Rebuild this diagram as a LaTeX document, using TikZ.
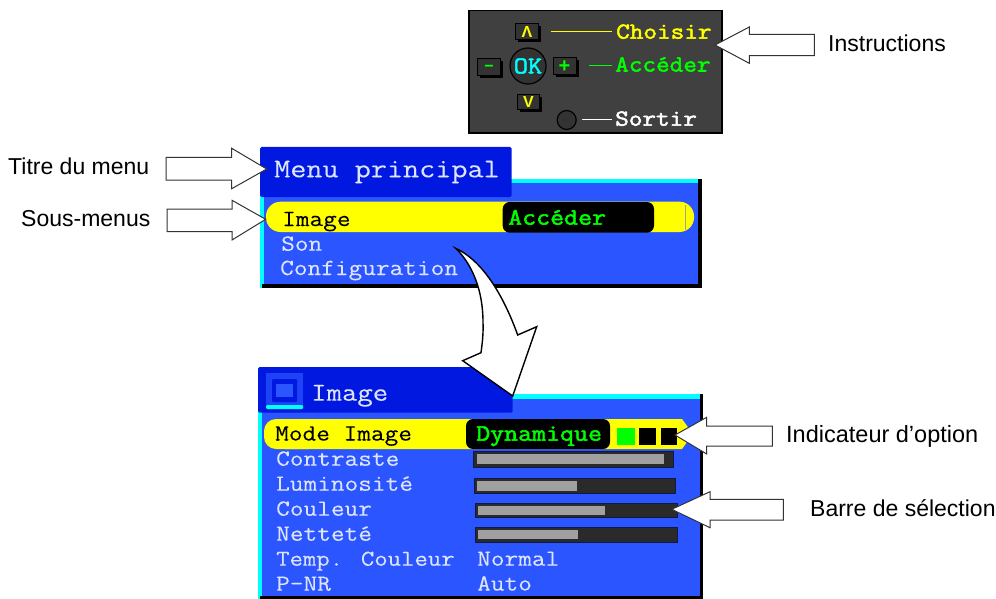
\documentclass[tikz,border=0pt]{standalone}
\usepackage{fontspec}
\setmainfont{Liberation Sans}
\newfontfamily\mfont[FakeStretch=1.15,FakeBold=0.1]{Latin Modern Mono}
\newfontfamily\bfont[FakeStretch=1.15,FakeBold=2.2]{Latin Modern Mono}
\newfontfamily\bsym{Liberation Sans Bold}
\definecolor{panelblue}{HTML}{2B55FF}
\definecolor{titleblue}{HTML}{0018E0}
\definecolor{pale}{HTML}{DDE4FF}
\definecolor{ltgreen}{HTML}{00FF00}
\definecolor{pureyellow}{HTML}{FFFF00}
\definecolor{purecyan}{HTML}{00FFFF}
\definecolor{boxgray}{HTML}{404040}
\definecolor{keygray}{HTML}{333333}
\definecolor{bardark}{HTML}{2A2A2A}
\definecolor{barlight}{HTML}{A0A0A0}
\tikzset{
  lab/.style={anchor=base west,inner sep=0pt,font=\fontsize{23}{24}\selectfont,text=black},
  mtxt/.style={anchor=base west,inner sep=0pt,font=\mfont\fontsize{23.1}{24}\selectfont,text=pale},
  htxt/.style={anchor=base west,inner sep=0pt,font=\mfont\fontsize{27.2}{28}\selectfont,text=pale},
  btxt/.style={anchor=base west,inner sep=0pt,font=\bfont\fontsize{23.6}{24}\selectfont},
  itxt/.style={anchor=base west,inner sep=0pt,font=\bfont\fontsize{23}{24}\selectfont},
  blockarrow/.style={draw=black!80,fill=white,line width=1pt,line join=miter},
  keycap/.style={fill=keygray,draw=black,line width=.8pt},
  keyshadow/.style={fill=black},
  keylabel/.style={inner sep=0pt,font=\bsym\fontsize{16}{18}\selectfont},
}
\begin{document}
\begin{tikzpicture}[x=1pt,y=-1pt]
\useasboundingbox (0,0) rectangle (996,599);
% instruction box
\fill[boxgray,draw=black,line width=1.2pt] (469,10.5) rectangle (722,133);
\foreach \a/\b/\c/\d in {515/23/538/39,477/58/500/75,553/57/576/74,517/94/539/109}{
  \fill[keyshadow] (\a+3,\b+3) rectangle (\c+3,\d+3);
  \draw[keycap] (\a,\b) rectangle (\c,\d);
}
\node[keylabel,text=pureyellow] (kup) at (527,31.5) {Λ};
\node[keylabel,text=ltgreen] (kminus) at (489,68.5) {\textminus};
\node[keylabel,text=ltgreen,font=\bsym\fontsize{20}{20}\selectfont] (kplus) at (564.5,67) {+};
\node[keylabel,text=pureyellow] (kdown) at (528.5,102) {V};
\node[circle,fill=keygray,draw=black,line width=1.2pt,minimum size=36pt,inner sep=0pt,text=purecyan,font=\bfont\fontsize{24}{24}\selectfont] (ok) at (528,66) {OK};
\node[circle,fill=keygray,draw=black,line width=1.2pt,minimum size=19pt,inner sep=0pt] (exit) at (566.7,120) {};
\node[itxt,text=pureyellow] (choisir) at (616,38.7) {Choisir};
\node[itxt,text=ltgreen] (acc1) at (615,71.5) {Accéder};
\node[itxt,text=white] (sortir) at (615,125.7) {Sortir};
\coordinate (cl) at (551,31.7);
\coordinate (al) at (589,65.7);
\coordinate (sl) at (582,119.7);
\draw[pureyellow,line width=1.6pt] (cl) -- ++(61,0);
\draw[ltgreen,line width=1.6pt] (al) -- ++(23,0);
\draw[white,line width=1.6pt] (sl) -- ++(30,0);

% main menu
\fill[panelblue] (260,180) rectangle (702,288);
\fill[purecyan] (260,179) rectangle (700,183);
\fill[purecyan] (260,180) rectangle (264,288);
\fill[black] (698,179) rectangle (702,288);
\fill[black] (262,284) rectangle (702,288);
\fill[titleblue,rounded corners=1.5pt] (260,147) rectangle (511.7,197);
\node[htxt] (t1) at (274,177.3) {Menu principal};
\fill[pureyellow,rounded corners=14.5pt] (266,201.7) rectangle (694,232);
\fill[black,rounded corners=7pt] (502.7,202) rectangle (654,232.7);
\draw[barlight,line width=1pt] (685,205) -- (685,230);
\node[mtxt,text=black] (m1) at (282,226) {Image};
\node[btxt,text=ltgreen] (m1b) at (508,224.7) {Accéder};
\node[mtxt] (m2) at (281,250.7) {Son};
\node[mtxt] (m3) at (280,275) {Configuration};

% image menu
\fill[panelblue] (258,396) rectangle (702,599);
\fill[purecyan] (258,394) rectangle (700,398.5);
\fill[purecyan] (258,396) rectangle (262,599);
\fill[black] (699.5,394) rectangle (702.7,599);
\fill[black] (260,596) rectangle (702.7,599);
\fill[titleblue,rounded corners=1.5pt] (258,367) rectangle (512.7,412.7);
\fill[panelblue!70!titleblue] (266,373) rectangle (303,405);
\fill[purecyan,rounded corners=1pt] (266,405) rectangle (303,409);
\fill[titleblue,rounded corners=1pt] (272,379) rectangle (297,402);
\fill[panelblue] (276,384) rectangle (293,397);
\node[htxt,font=\mfont\fontsize{26}{28}\selectfont] (t2) at (311,400.7) {Image};
\fill[pureyellow,rounded corners=12pt] (264,419) rectangle (320,449);
\fill[pureyellow] (285,419) -- (682,419) -- (690,430) -- (690,438) -- (682,449) -- (285,449) -- cycle;
\fill[black,rounded corners=7pt] (466,419) rectangle (610,449);
\fill[ltgreen] (616.7,428) rectangle (634.5,444.7);
\fill[black] (638.7,428) rectangle (656,444.7);
\fill[black] (660.7,428) rectangle (677,444.7);
\node[mtxt,text=black] (r1) at (275,440.5) {Mode Image};
\node[btxt,text=ltgreen] (r1b) at (476,440.7) {Dynamique};
\node[mtxt] (r2) at (276,465.7) {Contraste};
\node[mtxt] (r3) at (276,490.7) {Luminosité};
\node[mtxt] (r4) at (276,515.7) {Couleur};
\node[mtxt] (r5) at (276,540.7) {Netteté};
\node[mtxt,font=\mfont\fontsize{22.6}{24}\selectfont] (r6) at (276,565.7) {Temp. Couleur};
\node[mtxt] (r7) at (276,590.7) {P-NR};
\node[mtxt] (r6b) at (477,565.7) {Normal};
\node[mtxt] (r7b) at (477,590.5) {Auto};
\foreach \a/\b/\c/\d/\e/\f/\g/\h in {473/451/673/467/477/454/664/464,474/478/675/493/477/481/577/491,475/503/677/517/478/506/605/515,475/527/677/542/478/530/578/539}{
  \fill[bardark,draw=black!70!panelblue,line width=.8pt] (\a,\b) rectangle (\c,\d);
  \fill[barlight] (\e,\f) rectangle (\g,\h);
}

% curved arrow
\draw[fill=white,draw=black,line width=1.4pt,line join=miter] (455.7,248.3)
  .. controls (472,264) and (483,290) .. (483,322)
  .. controls (483.5,335) and (482,345) .. (481,352.7)
  -- (462.7,360.7) -- (512.7,396) -- (536.7,326.7) -- (517.7,335)
  .. controls (505,300) and (485,262) .. cycle;

% block arrows
\draw[blockarrow] (715,45) -- (749.3,27) -- (749.3,34.3) -- (814.3,34.3) -- (814.3,55.7) -- (749.3,55.7) -- (749.3,63.3) -- cycle;
\draw[blockarrow] (266.7,169) -- (231.7,148.3) -- (231.7,157.3) -- (166,157.3) -- (166,180) -- (231.7,180) -- (231.7,188.7) -- cycle;
\draw[blockarrow] (265.7,219.3) -- (232,200.3) -- (232,209) -- (167,209) -- (167,231.7) -- (232,231.7) -- (232,240) -- cycle;
\draw[blockarrow] (675,435) -- (706.7,417.3) -- (706.7,426) -- (772.3,426) -- (772.3,446) -- (706.7,446) -- (706.7,454) -- cycle;
\draw[blockarrow] (671.7,509.3) -- (710,491.7) -- (710,499.3) -- (783.3,499.3) -- (783.3,520) -- (710,520) -- (710,527.7) -- cycle;

% labels
\node[lab] (l1) at (828,51.7) {Instructions};
\node[lab] (l2) at (8,175) {Titre du menu};
\node[lab] (l3) at (21,226.7) {Sous-menus};
\node[lab,font=\fontsize{23.5}{24}\selectfont] (l4) at (786,442.3) {Indicateur d’option};
\node[lab] (l5) at (810,516) {Barre de sélection};
\end{tikzpicture}
\end{document}
